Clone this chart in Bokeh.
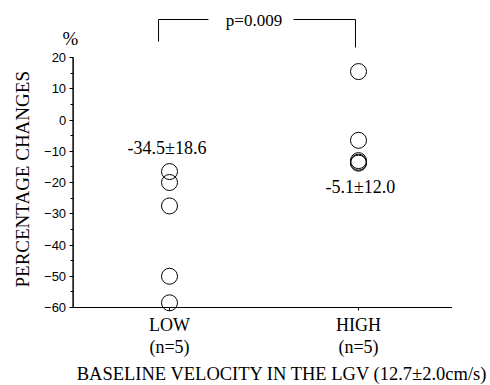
import math
from bokeh.plotting import figure
from bokeh.models import Range1d, FixedTicker, Label
from bokeh.embed import file_html
from bokeh.resources import INLINE

# ---- data ----
groups = ["LOW", "HIGH"]
group_x = [1, 2]
group_labels = ["LOW\n(n=5)", "HIGH\n(n=5)"]
low_values = [-16.5, -20.0, -27.5, -50.0, -58.5]
high_values = [15.5, -6.5, -13.0, -13.8, -13.5]
summary_text = ["-34.5\u00b118.6", "-5.1\u00b112.0"]
summary_x = [0.987, 2.01]
summary_y = [-9.1, -21.3]
y_ticks = [-60, -50, -40, -30, -20, -10, 0, 10, 20]
y_minor = [-55, -45, -35, -25, -15, -5, 5, 15]
y_tick_labels = [str(t).replace("-", "\u2212") for t in y_ticks]
p_text = "p=0.009"
x_title = "BASELINE VELOCITY IN THE LGV (12.7\u00b12.0cm/s)"
y_title = "PERCENTAGE CHANGES"
unit_text = "%"

# annotation anchors (data coordinates)
bracket_left_x = [0.942, 0.942, 1.206]
bracket_left_y = [25.1, 32.16, 32.16]
bracket_right_x = [1.656, 1.984, 1.984]
bracket_right_y = [32.16, 32.16, 23.2]
p_text_pos = (1.447, 31.9)
unit_pos = (0.476, 26.2)
y_title_pos = (0.2196, -53.6)
x_title_pos = (2.686, -84.5)

SERIF = "Liberation Serif"
SANS = "Liberation Sans"
X_AXIS_AT = 0.49      # where the y axis is drawn
Y_AXIS_AT = -60       # where the x axis is drawn
X_END = 2.495

p = figure(
    output_backend="svg", toolbar_location=None,
    width=490, height=385,
    min_border_left=0, min_border_right=0, min_border_top=0, min_border_bottom=0,
    x_range=Range1d(0.10582, 2.6984), y_range=Range1d(-84.96, 38.24),
)
p.outline_line_color = None
p.xgrid.visible = False
p.ygrid.visible = False
p.background_fill_color = "white"

# y axis drawn at x = 0.49
ya = p.yaxis[0]
ya.fixed_location = X_AXIS_AT
ya.ticker = FixedTicker(ticks=y_ticks, minor_ticks=y_minor)
ya.axis_line_color = None
ya.major_tick_out = 4
ya.major_tick_in = 0
ya.minor_tick_out = 3
ya.minor_tick_in = 0
ya.major_tick_line_color = "black"
ya.minor_tick_line_color = "black"
ya.major_label_text_font = SANS
ya.major_label_text_font_size = "13px"
ya.major_label_text_color = "black"
ya.major_label_standoff = 3
ya.major_label_overrides = {t: lab for t, lab in zip(y_ticks, y_tick_labels)}

# x axis drawn at y = -60
xa = p.xaxis[0]
xa.fixed_location = Y_AXIS_AT
xa.ticker = FixedTicker(ticks=group_x, minor_ticks=[])
xa.major_label_overrides = {gx: lab for gx, lab in zip(group_x, group_labels)}
xa.axis_line_color = None
xa.major_tick_out = 3
xa.major_tick_in = 0
xa.major_tick_line_color = "black"
xa.major_label_text_font = SERIF
xa.major_label_text_font_size = "18px"
xa.major_label_text_color = "black"
xa.major_label_standoff = 4
xa.major_label_text_line_height = 1.1

# axis lines (only over the drawn extent)
p.segment(x0=[X_AXIS_AT], y0=[min(y_ticks)], x1=[X_AXIS_AT], y1=[max(y_ticks)],
          line_color="black", line_width=1.5)
p.segment(x0=[X_AXIS_AT], y0=[Y_AXIS_AT], x1=[X_END], y1=[Y_AXIS_AT],
          line_color="black", line_width=1.2)

# points
p.scatter([group_x[0]] * len(low_values), low_values, size=16, marker="circle",
          fill_alpha=0, line_color="black", line_width=1)
p.scatter([group_x[1]] * len(high_values), high_values, size=16, marker="circle",
          fill_alpha=0, line_color="black", line_width=1)

# summary annotations
for sx, t, sy in zip(summary_x, summary_text, summary_y):
    p.add_layout(Label(x=sx, y=sy, text=t, text_align="center", text_baseline="middle",
                       text_font=SERIF, text_font_size="18px", text_color="black"))

# significance bracket
p.line(bracket_left_x, bracket_left_y, line_color="black", line_width=1)
p.line(bracket_right_x, bracket_right_y, line_color="black", line_width=1)
p.add_layout(Label(x=p_text_pos[0], y=p_text_pos[1], text=p_text, text_align="center",
                   text_baseline="middle", text_font=SERIF, text_font_size="17px",
                   text_color="black"))

# percent sign
p.add_layout(Label(x=unit_pos[0], y=unit_pos[1], text=unit_text, text_align="center",
                   text_baseline="middle", text_font=SERIF, text_font_size="19px",
                   text_color="black"))

# axis titles
p.add_layout(Label(x=y_title_pos[0], y=y_title_pos[1], text=y_title, angle=math.pi / 2,
                   text_align="left", text_baseline="middle",
                   text_font=SERIF, text_font_size="19px", text_color="black"))
p.add_layout(Label(x=x_title_pos[0], y=x_title_pos[1], text=x_title,
                   text_align="right", text_baseline="bottom",
                   text_font=SERIF, text_font_size="18.5px", text_color="black"))

open("out.html", "w").write(file_html(p, INLINE))
